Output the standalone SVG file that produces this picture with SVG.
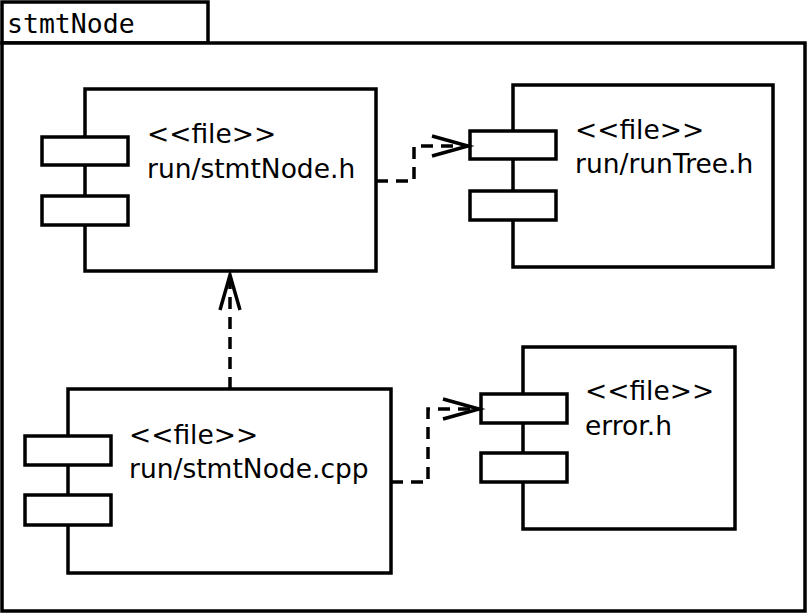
<svg xmlns="http://www.w3.org/2000/svg" width="808" height="614" viewBox="0 0 808 614">
<style>
.b{fill:#fff;stroke:#000;stroke-width:3.5}
.t{font-family:"DejaVu Sans",sans-serif;font-size:26.5px;fill:#000}
.c{fill:none;stroke:#000;stroke-width:3.5;stroke-dasharray:12,8}
.a{fill:none;stroke:#000;stroke-width:3.5}
</style>
<rect width="808" height="614" fill="#fff"/>
<g id="pkg">
<rect class="b" x="2" y="2" width="206" height="41"/>
<rect class="b" x="2" y="43" width="803" height="568"/>
<text x="7" y="33" style="font-family:'DejaVu Sans Mono',monospace;font-size:26.5px">stmtNode</text>
</g>
<g id="stmtNodeH">
<rect class="b" x="85" y="89" width="291" height="182"/>
<rect class="b" x="42" y="137" width="86" height="28"/>
<rect class="b" x="42" y="196" width="86" height="29"/>
<text class="t" x="147" y="143">&lt;&lt;file&gt;&gt;</text>
<text class="t" x="147" y="178">run/stmtNode.h</text>
</g>
<g id="runTreeH">
<rect class="b" x="513" y="85" width="260" height="182"/>
<rect class="b" x="470" y="131" width="86" height="28"/>
<rect class="b" x="470" y="191" width="86" height="29"/>
<text class="t" x="575" y="139">&lt;&lt;file&gt;&gt;</text>
<text class="t" x="575" y="173">run/runTree.h</text>
</g>
<g id="stmtNodeCpp">
<rect class="b" x="68" y="389" width="323" height="184"/>
<rect class="b" x="25" y="436" width="86" height="29"/>
<rect class="b" x="25" y="495" width="86" height="30"/>
<text class="t" x="129" y="444">&lt;&lt;file&gt;&gt;</text>
<text class="t" x="129" y="478">run/stmtNode.cpp</text>
</g>
<g id="errorH">
<rect class="b" x="523" y="347" width="212" height="182"/>
<rect class="b" x="481" y="394" width="86" height="29"/>
<rect class="b" x="481" y="453" width="86" height="29"/>
<text class="t" x="585" y="400">&lt;&lt;file&gt;&gt;</text>
<text class="t" x="585" y="435">error.h</text>
</g>
<g id="connectors">
<path class="c" d="M376 181H414V146H468"/>
<path class="a" d="M432 136L468 146L432 156"/>
<path class="c" d="M230 389V275"/>
<path class="a" d="M220 310L230 275L240 310"/>
<path class="c" d="M391 482H428V409H479"/>
<path class="a" d="M443 399L479 409L443 419"/>
</g>
</svg>
